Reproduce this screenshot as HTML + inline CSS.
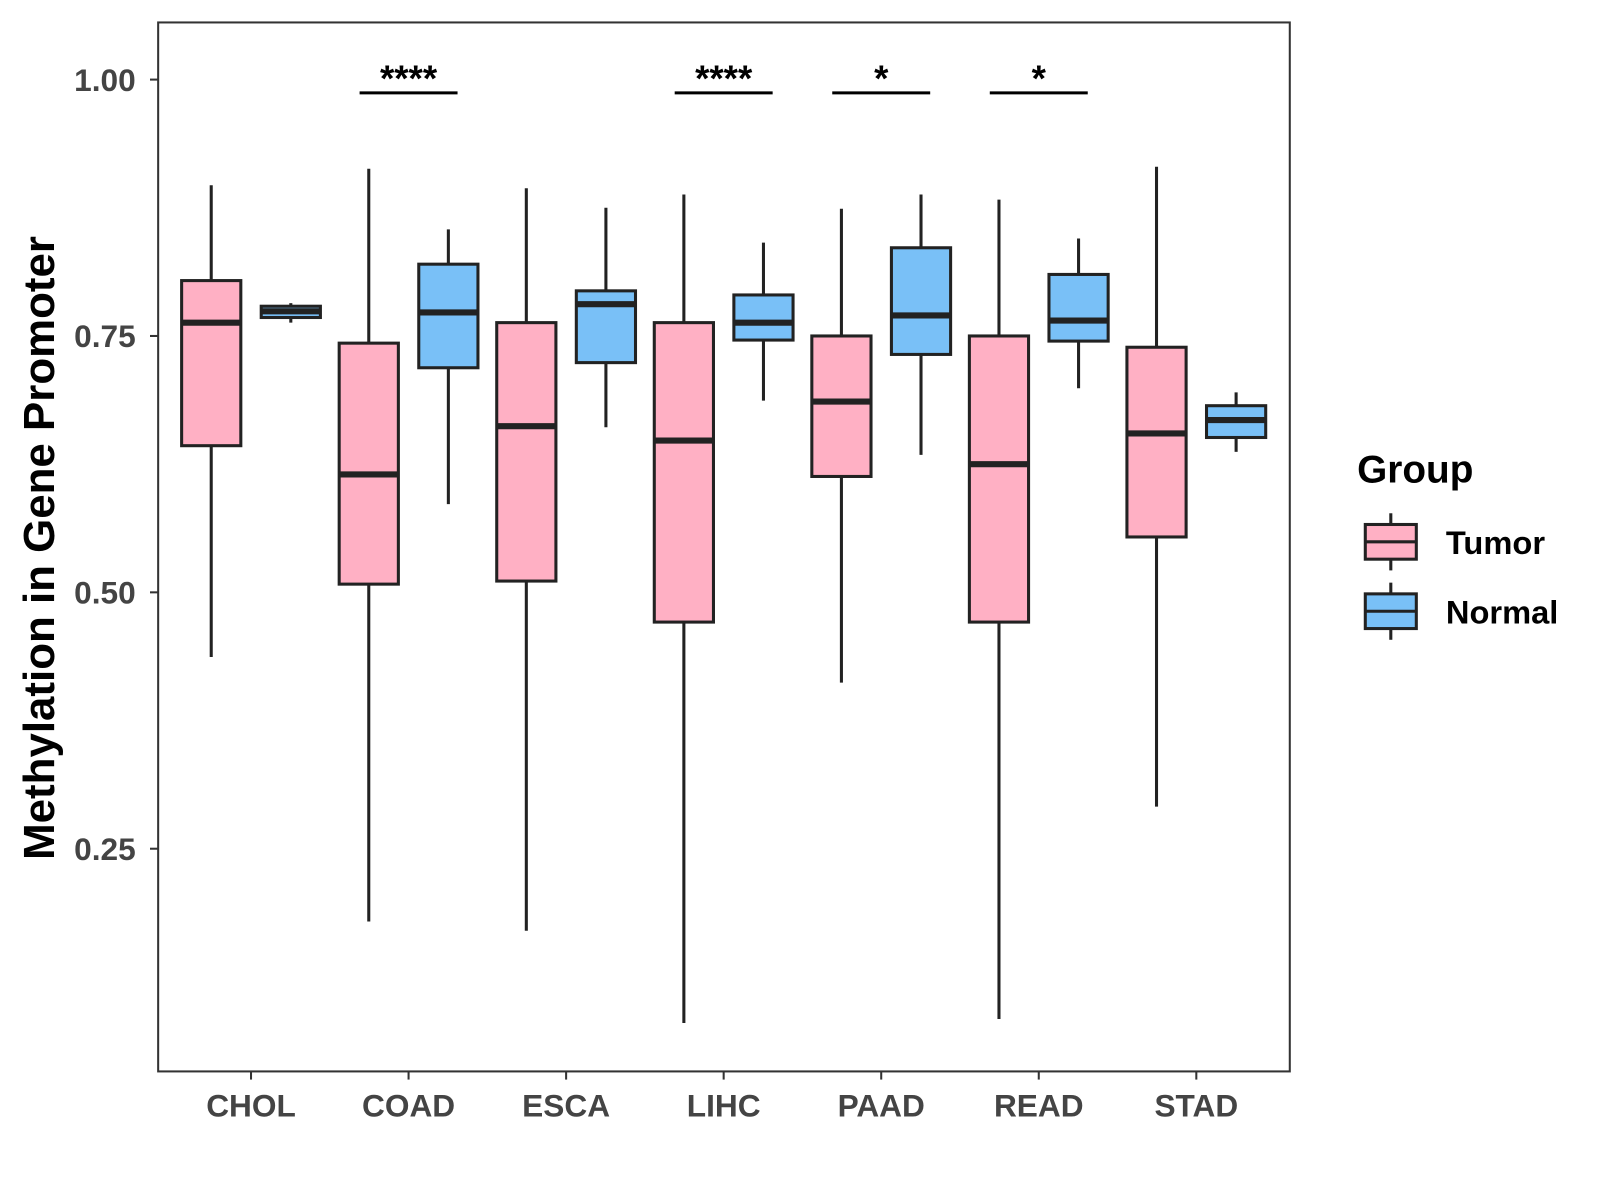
<!DOCTYPE html>
<html><head><meta charset="utf-8"><style>
html,body{margin:0;padding:0;background:#fff;}
svg{display:block;font-family:"Liberation Sans",Arial,sans-serif;}
</style></head><body>
<svg id="chart" width="1600" height="1200" viewBox="0 0 1600 1200">
<g transform="scale(1.0204)">
<rect x="155" y="22" width="1109" height="1028" fill="#fff" stroke="#333" stroke-width="2"/>
<g id="boxes"></g>
<g id="yaxis"></g>
<g id="xaxis"></g>
<g id="sig"></g>
<text x="53" y="537" transform="rotate(-90 53 537)" text-anchor="middle" font-size="43" font-weight="bold" fill="#000">Methylation in Gene Promoter</text>
<g>
<text x="1330" y="473" font-size="38" font-weight="bold" fill="#000">Group</text>
<g>
<line x1="1363" y1="503" x2="1363" y2="559" stroke="#222" stroke-width="3"/>
<rect x="1338" y="514" width="50" height="34" fill="#FFB0C4" stroke="#222" stroke-width="3"/>
<line x1="1338" y1="531" x2="1388" y2="531" stroke="#222" stroke-width="3"/>
<text x="1417" y="543" font-size="32" font-weight="bold" fill="#000">Tumor</text>
</g>
<g>
<line x1="1363" y1="571" x2="1363" y2="627" stroke="#222" stroke-width="3"/>
<rect x="1338" y="582" width="50" height="34" fill="#79C0F7" stroke="#222" stroke-width="3"/>
<line x1="1338" y1="599" x2="1388" y2="599" stroke="#222" stroke-width="3"/>
<text x="1417" y="611" font-size="32" font-weight="bold" fill="#000">Normal</text>
</g>
</g>
</g>
</svg>
<script>
const categories=["CHOL","COAD","ESCA","LIHC","PAAD","READ","STAD"];
// [whiskerLow, q1, median, q3, whiskerHigh]
const tumorStats=[[0.437,0.643,0.763,0.804,0.897],[0.179,0.508,0.615,0.743,0.913],[0.170,0.511,0.662,0.763,0.894],[0.080,0.471,0.648,0.763,0.888],[0.412,0.613,0.686,0.750,0.874],[0.084,0.471,0.625,0.750,0.883],[0.291,0.554,0.655,0.739,0.915]];
const normalStats=[[0.763,0.768,0.774,0.779,0.782],[0.586,0.719,0.773,0.820,0.854],[0.661,0.724,0.781,0.794,0.875],[0.687,0.746,0.763,0.790,0.841],[0.634,0.732,0.770,0.836,0.888],[0.699,0.745,0.765,0.810,0.845],[0.637,0.651,0.668,0.682,0.695]];
const yTicks=[0.25,0.50,0.75,1.00];
const yTickLabels=["0.25","0.50","0.75","1.00"];
const sigCategories=["COAD","LIHC","PAAD","READ"];
const sigLabels=["****","****","*","*"];

const NS="http://www.w3.org/2000/svg";
function y(v){return 78+(1-v)*1005;}
function x(i){return 246+i*154.4;}
function mk(tag,attrs,parent){const e=document.createElementNS(NS,tag);for(const k in attrs)e.setAttribute(k,attrs[k]);parent.appendChild(e);return e;}
const boxes=document.getElementById('boxes');
function drawBox(cx,s,fill,name){
  const g=mk('g',{},boxes);
  
  
  mk('line',{x1:cx,x2:cx,y1:y(s[4]),y2:y(s[0]),stroke:'#222','stroke-width':3},g);
  mk('rect',{x:cx-29,y:y(s[3]),width:58,height:y(s[1])-y(s[3]),fill:fill,stroke:'#222','stroke-width':3},g);
  mk('line',{x1:cx-29,x2:cx+29,y1:y(s[2]),y2:y(s[2]),stroke:'#222','stroke-width':6},g);
}
categories.forEach((c,i)=>{
  drawBox(x(i)-39,tumorStats[i],'#FFB0C4','box-'+c.toLowerCase()+'-tumor');
  drawBox(x(i)+39,normalStats[i],'#79C0F7','box-'+c.toLowerCase()+'-normal');
});
const ya=document.getElementById('yaxis');
yTicks.forEach((t,i)=>{
  mk('line',{x1:147,x2:155,y1:y(t),y2:y(t),stroke:'#333','stroke-width':2},ya);
  const tx=mk('text',{x:133,y:y(t)+11,'text-anchor':'end','font-size':31,'font-weight':'bold',fill:'#444'},ya);
  tx.textContent=yTickLabels[i];
  
  
});
const xa=document.getElementById('xaxis');
categories.forEach((c,i)=>{
  mk('line',{x1:x(i),x2:x(i),y1:1050,y2:1058,stroke:'#333','stroke-width':2},xa);
  const tx=mk('text',{x:x(i),y:1094,'text-anchor':'middle','font-size':31,'font-weight':'bold',fill:'#444'},xa);
  tx.textContent=c;
  
  
});
const sg=document.getElementById('sig');
sigCategories.forEach((c,k)=>{
  const i=categories.indexOf(c);
  mk('line',{x1:x(i)-48,x2:x(i)+48,y1:91,y2:91,stroke:'#000','stroke-width':3},sg);
  const tx=mk('text',{x:x(i),y:89,'text-anchor':'middle','font-size':36,'font-weight':'bold',fill:'#000'},sg);
  tx.textContent=sigLabels[k];
  
  
});
</script>
</body></html>
